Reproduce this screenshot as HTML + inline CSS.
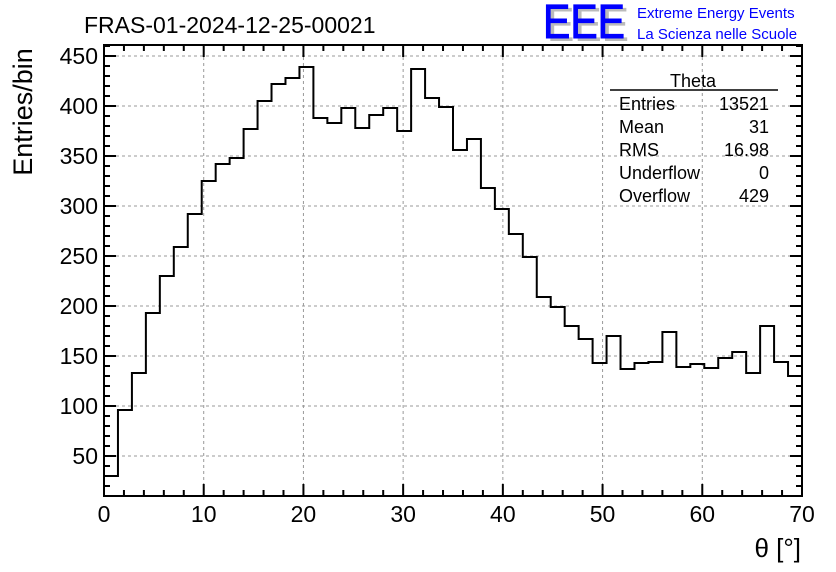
<!DOCTYPE html>
<html><head><meta charset="utf-8"><style>
body{margin:0;background:#fff}
svg{display:block;font-family:"Liberation Sans",sans-serif}
</style></head><body>
<svg id="c" width="836" height="572">
<rect width="836" height="572" fill="#fff"/>
<text x="84" y="33" font-size="23">FRAS-01-2024-12-25-00021</text>
<g>
<text x="547" y="41" font-size="48" fill="#bbb" textLength="82" lengthAdjust="spacingAndGlyphs">EEE</text>
<text x="543" y="38" font-size="48" fill="#0000ff" stroke="#0000ff" stroke-width="1" textLength="82" lengthAdjust="spacingAndGlyphs">EEE</text>
<text x="637" y="18" font-size="15" fill="#0000ff">Extreme Energy Events</text>
<text x="637" y="39" font-size="15" fill="#0000ff">La Scienza nelle Scuole</text>
</g>
<g id="grid"></g>
<g id="ticks"></g>
<path id="hist" fill="none" stroke="#000" stroke-width="2"/>
<rect x="104" y="45" width="698" height="451" fill="none" stroke="#000" stroke-width="2"/>
<g id="labels" font-size="23"></g>
<text transform="translate(32,112) rotate(-90)" text-anchor="middle" font-size="27">Entries/bin</text>
<text x="801" y="557" text-anchor="end" font-size="26">θ [°]</text>
<g font-size="18">
<text x="693" y="87" text-anchor="middle">Theta</text>
<line x1="610" y1="90" x2="778" y2="90" stroke="#000" stroke-width="1.5"/>
<text x="619" y="110">Entries</text><text x="769" y="110" text-anchor="end">13521</text>
<text x="619" y="133">Mean</text><text x="769" y="133" text-anchor="end">31</text>
<text x="619" y="156">RMS</text><text x="769" y="156" text-anchor="end">16.98</text>
<text x="619" y="179">Underflow</text><text x="769" y="179" text-anchor="end">0</text>
<text x="619" y="202">Overflow</text><text x="769" y="202" text-anchor="end">429</text>
</g>
</svg>
<script>
const binCounts=[30,96,133,193,230,259,292,325,342,348,377,405,422,428,439,388,383,398,378,391,398,375,437,408,399,356,367,318,297,272,249,209,199,180,167,143,170,137,143,144,174,139,142,138,148,154,133,180,144,130];
const xTicks=[0,10,20,30,40,50,60,70];
const yTicks=[50,100,150,200,250,300,350,400,450];
const xMin=0,xMax=70,yMin=10,yMax=461;
const L=104,R=802,T=45,B=496;
const sx=v=>L+(v-xMin)/(xMax-xMin)*(R-L);
const sy=v=>B-(v-yMin)/(yMax-yMin)*(B-T);
const NS='http://www.w3.org/2000/svg';
function mk(tag,attrs,parent){const e=document.createElementNS(NS,tag);for(const k in attrs)e.setAttribute(k,attrs[k]);parent.appendChild(e);return e;}
const grid=document.getElementById('grid'),ticks=document.getElementById('ticks'),labels=document.getElementById('labels');
xTicks.forEach(t=>{const x=sx(t);
 if(t>xMin&&t<xMax){const g=mk('line',{x1:x,x2:x,y1:T,y2:B,stroke:'#999','stroke-dasharray':'3,3'},grid);}
 const lb=mk('text',{x:x,y:522,'text-anchor':'middle'},labels);lb.textContent=t;
 
 
});
yTicks.forEach(t=>{const y=sy(t);
 const g=mk('line',{x1:L,x2:R,y1:y,y2:y,stroke:'#999','stroke-dasharray':'3,3'},grid);
 
 
 const lb=mk('text',{x:98,y:y+8,'text-anchor':'end'},labels);lb.textContent=t;
 
 
});
let d='';
for(let v=xMin;v<=xMax+1e-9;v+=2){const x=sx(v),len=(v%10===0)?12:6;d+=`M${x},${B}v${-len}M${x},${T}v${len}`;}
for(let v=10;v<=yMax;v+=10){const y=sy(v),len=(v%50===0)?12:6;d+=`M${L},${y}h${len}M${R},${y}h${-len}`;}
mk('path',{d:d,stroke:'#000','stroke-width':2,fill:'none'},ticks);
const w=(xMax-xMin)/binCounts.length;
let p=`M${sx(0)},${sy(binCounts[0])}`;
binCounts.forEach((c,i)=>{p+=`L${sx(i*w)},${sy(c)}L${sx((i+1)*w)},${sy(c)}`;});
document.getElementById('hist').setAttribute('d',p);
</script>
</body></html>
